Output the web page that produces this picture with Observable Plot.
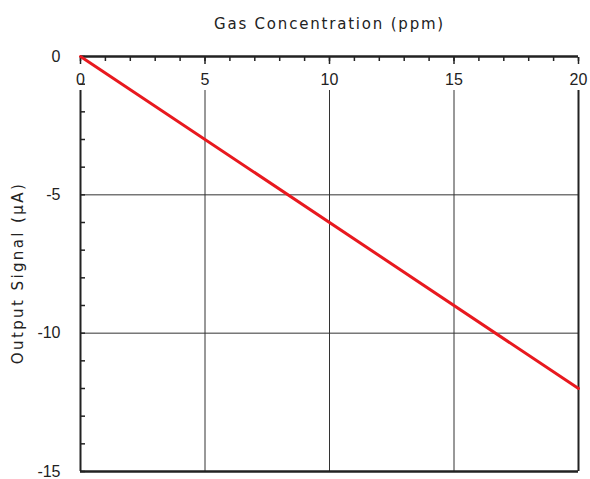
<!DOCTYPE html>
<html><head><meta charset="utf-8">
<script src="https://cdn.jsdelivr.net/npm/d3@7"></script>
<script src="https://cdn.jsdelivr.net/npm/@observablehq/plot@0.6"></script>
<style>body{margin:0;background:#fff;} #c{position:absolute;left:0;top:0;}</style>
</head><body><div id="c"></div>
<script>
const concentration = [0, 20];
const signal = [0, -12];
const xMajor = [0, 5, 10, 15, 20];
const xMinor = d3.range(0, 21, 1);
const yMajor = [0, -5, -10, -15];
const yMinor = d3.range(-15, 1, 1);
const xGrid = [5, 10, 15];
const yGrid = [-5, -10];
const xEdges = [0, 20];
const yEdges = [0, -15];
const xTitle = "Gas Concentration (ppm)";
const yTitle = "Output Signal (\u03bcA)";

const data = concentration.map((c, i) => ({c, s: signal[i]}));
const font = "'DejaVu Sans', 'Liberation Sans', sans-serif";
const num = "'Liberation Sans', Arial, sans-serif";

const chart = Plot.plot({
  width: 590, height: 479,
  marginLeft: 80, marginRight: 12, marginTop: 56, marginBottom: 8,
  style: {fontFamily: font, background: "white"},
  x: {domain: [0, 20]},
  y: {domain: [-15, 0]},
  marks: [
    Plot.ruleX(xGrid, {stroke: "#333", strokeWidth: 1, insetTop: 34}),
    Plot.ruleY(yGrid, {stroke: "#333", strokeWidth: 1}),
    Plot.ruleX(xEdges, {stroke: "#222", strokeWidth: 2, insetTop: 34}),
    Plot.ruleY(yEdges, {stroke: "#222", strokeWidth: 2.5}),
    Plot.axisX(xMinor, {anchor: "top", tickSize: -4, tickFormat: () => "", stroke: "#222", strokeWidth: 1.5, label: null}),
    Plot.axisX(xMajor, {anchor: "top", tickSize: -7, tickFormat: () => "", stroke: "#222", strokeWidth: 1.5, label: null}),
    Plot.axisY(yMinor, {anchor: "left", tickSize: -5, tickFormat: () => "", stroke: "#222", strokeWidth: 1.5, label: null}),
    Plot.axisY(yMajor, {anchor: "left", tickSize: 0, tickPadding: 20, fontSize: 16, fontFamily: num, fill: "#222", label: null, tickFormat: d => String(d)}),
    Plot.line(data, {x: "c", y: "s", stroke: "#e8191f", strokeWidth: 3}),
    Plot.text(xMajor, {x: d => d, frameAnchor: "top", lineAnchor: "middle", dy: 23, fontSize: 16, fontFamily: num, fill: "#222", text: d => String(d)}),
    Plot.text([xTitle], {frameAnchor: "top", lineAnchor: "middle", textAnchor: "middle", dy: -32, fontSize: 15, fill: "#222"}),
    Plot.text([yTitle], {frameAnchor: "left", lineAnchor: "middle", textAnchor: "middle", dx: -62, dy: 9, rotate: -90, fontSize: 15, fill: "#222"})
  ]
});
chart.querySelectorAll("text").forEach(t => {
  if (t.textContent === xTitle) t.setAttribute("letter-spacing", "1.8");
  if (t.textContent === yTitle) t.setAttribute("letter-spacing", "2.4");
});
document.getElementById("c").append(chart);
</script></body></html>
